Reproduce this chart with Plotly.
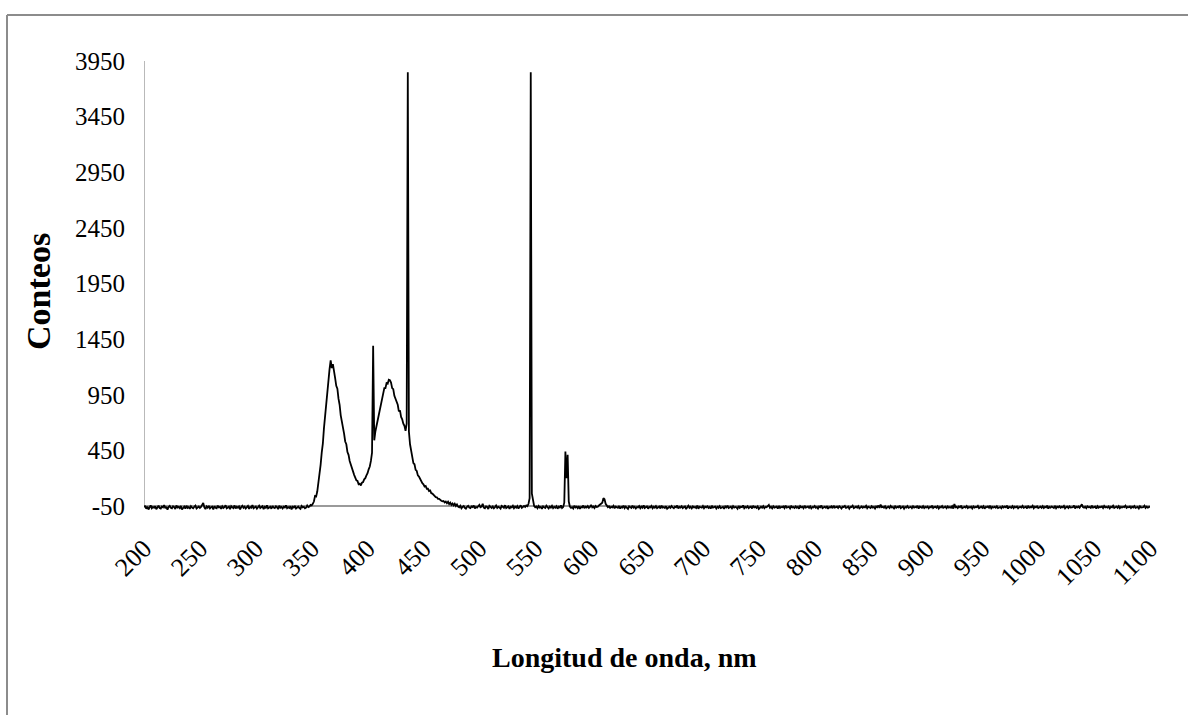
import plotly.graph_objects as go

# ---------------- data ----------------
wavelength_start = 200
wavelength_step = 1

counts_200_349 = [
    -62, -48, -75, -55, -81, -60, -44, -70, -58, -66, -52, -79, -61, -47, -68, -73, -55, -63, -41, -70, -57, -84, -59, -50, -66,
    -71, -53, -60, -77, -45, -64, -58, -69, -50, -82, -62, -55, -73, -48, -67, -60, -76, -52, -64, -70, -57, -46, -72, -61, -55,
    -68, -59, -40, -22, -63, -78, -54, -66, -49, -72, -61, -57, -80, -52, -65, -70, -47, -62, -58, -75, -53, -67, -60, -44, -71,
    -64, -56, -79, -51, -62, -69, -45, -73, -58, -66, -54, -81, -60, -49, -67, -57, -72, -63, -50, -76, -59, -65, -42, -70, -61,
    -55, -74, -60, -47, -68, -63, -52, -79, -58, -66, -44, -71, -62, -57, -75, -50, -64, -69, -53, -61, -78, -48, -66, -59, -72,
    -56, -63, -45, -70, -60, -67, -52, -81, -58, -64, -49, -73, -61, -55, -68, -76, -50, -62, -57, -71, -65, -46, -60, -54, -40,
]

counts_350_480 = [
    -45, -30, -10, 40, 35, 80, 150, 250, 320, 430,
    510, 650, 760, 910, 1020, 1130, 1180, 1260, 1190, 1225,
    1140, 1100, 1030, 1005, 915, 860, 765, 715, 640, 600,
    530, 505, 435, 410, 355, 320, 290, 255, 230, 205,
    180, 175, 145, 150, 135, 160, 165, 190, 200, 225,
    245, 280, 305, 355, 430, 1390, 540, 620, 670, 730,
    750, 800, 850, 930, 950, 1010, 1010, 1055, 1050, 1085,
    1080, 1060, 1010, 1000, 940, 910, 870, 860, 800, 810,
    750, 730, 690, 670, 625, 690, 3850, 620, 505, 445,
    405, 335, 325, 275, 265, 225, 215, 190, 175, 155,
    145, 125, 130, 105, 105, 85, 90, 65, 62, 50,
    45, 30, 28, 15, 14, 2, -2, -8, -5, -18,
    -10, -25, -12, -32, -20, -40, -28, -44, -30, -50, -36,
]

counts_481_1100 = [
    -55, -62, -48, -70, -58, -51, -66, -74, -57, -49, -63, -68, -54, -60, -45, -72, -59, -65, -52, -40,
    -61, -56, -30, -64, -70, -53, -58, -77, -49, -62, -67, -55, -71, -60, -46, -68, -57, -63, -74, -50,
    -59, -66, -43, -69, -61, -54, -75, -58, -62, -48, -70, -56, -65, -51, -73, -60, -44, -67, -55, -50,
    -58, -45, -52, -30, 20, 3850, 60, -20, -48, -62, -55, -70, -50, -64, -58, -75, -53, -61, -68, -47,
    -60, -72, -55, -64, -49, -69, -58, -66, -52, -74, -57, -63, -45, -68, -60, -20, 440, 200, 410, -10,
    -55, -66, -60, -72, -48, -63, -57, -69, -53, -75, -59, -62, -46, -70, -56, -64, -51, -67, -58, -40,
    -62, -54, -68, -50, -60, -57, -45, -38, -30, -20, 20, 10, -30, -45, -60, -52, -67, -58, -63, -49,
    -71, -56, -61, -66, -50, -73, -58, -64, -47, -69, -55, -62, -76, -53, -60, -67, -48, -65, -57, -72,
    -59, -63, -51, -70, -56, -66, -44, -68, -60, -54, -74, -58, -62, -49, -71, -57, -65, -52, -69, -61,
    -55, -72, -47, -64, -59, -68, -53, -75, -60, -57, -66, -50, -63, -70, -56, -61, -45, -73, -58, -64,
    -52, -69, -60, -55, -77, -62, -48, -66, -58, -71, -54, -63, -59, -68, -46, -74, -57, -61, -65, -50,
    -70, -56, -62, -53, -67, -59, -73, -48, -64, -60, -55, -72, -57, -66, -51, -69, -61, -58, -75, -54,
    -63, -47, -68, -60, -56, -71, -52, -65, -59, -62, -74, -50, -66, -57, -61, -45, -70, -58, -64, -53,
    -69, -60, -55, -72, -49, -63, -58, -67, -54, -76, -61, -57, -65, -51, -70, -59, -62, -48, -40, -66,
    -58, -71, -53, -64, -60, -56, -73, -50, -67, -59, -62, -55, -69, -47, -65, -61, -57, -72, -52, -63,
    -60, -68, -54, -66, -58, -74, -51, -62, -57, -70, -48, -64, -61, -56, -67, -53, -71, -59, -63, -50,
    -65, -58, -73, -55, -61, -46, -69, -60, -57, -66, -52, -75, -59, -63, -54, -70, -48, -64, -62, -56,
    -68, -53, -61, -72, -57, -59, -50, -67, -63, -55, -74, -58, -60, -47, -69, -62, -56, -65, -51, -71,
    -60, -54, -66, -58, -63, -49, -70, -57, -61, -68, -52, -64, -59, -73, -55, -62, -46, -67, -38, -60,
    -57, -65, -53, -70, -61, -56, -68, -50, -63, -59, -72, -54, -66, -58, -62, -47, -69, -60, -55, -74,
    -58, -64, -51, -67, -61, -57, -70, -53, -65, -59, -62, -48, -73, -56, -60, -66, -52, -69, -58, -63,
    -55, -71, -59, -62, -47, -68, -60, -57, -65, -53, -72, -58, -63, -50, -67, -61, -56, -70, -54, -64,
    -59, -66, -52, -73, -32, -62, -58, -69, -55, -61, -47, -70, -60, -57, -64, -51, -68, -59, -63, -56,
    -72, -54, -65, -58, -61, -49, -69, -60, -56, -67, -53, -74, -59, -62, -55, -66, -48, -71, -58, -63,
    -57, -65, -52, -68, -61, -59, -70, -54, -64, -56, -62, -47, -73, -58, -60, -66, -51, -69, -57, -63,
    -55, -71, -60, -58, -64, -50, -67, -62, -56, -72, -53, -65, -59, -61, -48, -70, -57, -63, -54, -68,
    -60, -56, -66, -52, -69, -58, -62, -47, -73, -59, -64, -55, -61, -67, -50, -70, -57, -63, -53, -65,
    -58, -62, -49, -71, -60, -56, -68, -54, -64, -59, -61, -46, -72, -57, -63, -55, -66, -51, -35, -60,
    -65, -57, -70, -53, -62, -59, -67, -48, -64, -60, -56, -73, -52, -66, -58, -61, -55, -69, -50, -63,
    -59, -64, -54, -71, -57, -62, -48, -68, -60, -55, -66, -52, -70, -58, -63, -56, -61, -47, -67, -59,
    -62, -54, -69, -57, -64, -50, -66, -60, -58, -72, -53, -63, -59, -61, -48, -68, -56, -65, -60, -55,
]

counts = counts_200_349 + counts_350_480 + counts_481_1100
assert len(counts_200_349) == 150, len(counts_200_349)
assert len(counts_350_480) == 131, len(counts_350_480)
assert len(counts_481_1100) == 620, len(counts_481_1100)
wavelength = [wavelength_start + i * wavelength_step for i in range(len(counts))]

x_ticks = [200, 250, 300, 350, 400, 450, 500, 550, 600, 650, 700, 750,
           800, 850, 900, 950, 1000, 1050, 1100]
y_ticks = [-50, 450, 950, 1450, 1950, 2450, 2950, 3450, 3950]

x_title = "Longitud de onda, nm"
y_title = "Conteos"

# ---------------- figure ----------------
W, H = 1188, 715
L, R, T, B = 144, 38, 61, 200
plot_h = H - T - B
y_top = 3950
y_axis_min = -50
# -50 sits at pixel 506 (445 px below the top)
px_per_unit = (506 - T) / (y_top - y_axis_min)
y_bottom = y_top - plot_h / px_per_unit

def px_to_paper_x(px):
    return (px - L) / (W - L - R)

def py_to_paper_y(py):
    return (H - B - py) / plot_h

fig = go.Figure()
fig.add_trace(go.Scatter(
    x=wavelength, y=counts, mode="lines",
    line=dict(color="#000000", width=1.8),
    hoverinfo="skip", showlegend=False,
))

serif = "Liberation Serif, Times New Roman, serif"

fig.update_layout(
    width=W, height=H,
    margin=dict(l=L, r=R, t=T, b=B),
    paper_bgcolor="white", plot_bgcolor="white",
    showlegend=False,
    xaxis=dict(
        range=[200, 1100], tickvals=x_ticks, ticktext=[str(v) for v in x_ticks],
        tickangle=-45, showgrid=False, zeroline=False, showline=False,
        ticks="", ticklabelstandoff=12,
        tickfont=dict(family=serif, size=26, color="#000000"),
    ),
    yaxis=dict(
        range=[y_bottom, y_top], tickvals=y_ticks, ticktext=[str(v) for v in y_ticks],
        showgrid=False, zeroline=False, showline=False,
        ticks="", ticklabelstandoff=18,
        tickfont=dict(family=serif, size=25, color="#000000"),
    ),
    shapes=[
        # axis lines
        dict(type="line", xref="x", yref="y", x0=200, x1=200, y0=y_axis_min, y1=y_top,
             line=dict(color="#8a8a8a", width=1.2), layer="below"),
        dict(type="line", xref="x", yref="y", x0=200, x1=1100, y0=y_axis_min, y1=y_axis_min,
             line=dict(color="#9a9a9a", width=2.2), layer="below"),
        # outer frame (top and left)
        dict(type="line", xref="paper", yref="paper",
             x0=px_to_paper_x(7), x1=px_to_paper_x(1200),
             y0=py_to_paper_y(15), y1=py_to_paper_y(15),
             line=dict(color="#8c8c8c", width=2)),
        dict(type="line", xref="paper", yref="paper",
             x0=px_to_paper_x(7), x1=px_to_paper_x(7),
             y0=py_to_paper_y(15), y1=py_to_paper_y(730),
             line=dict(color="#8c8c8c", width=2)),
    ],
    annotations=[
        dict(text=x_title, xref="paper", yref="paper",
             x=px_to_paper_x(624), y=py_to_paper_y(657),
             xanchor="center", yanchor="middle", showarrow=False,
             font=dict(family=serif, size=28, color="#000000", weight="bold")),
        dict(text=y_title, xref="paper", yref="paper",
             x=px_to_paper_x(38), y=py_to_paper_y(292),
             xanchor="center", yanchor="middle", showarrow=False, textangle=-90,
             font=dict(family=serif, size=34, color="#000000", weight="bold")),
    ],
)

fig.write_html("out.html")
